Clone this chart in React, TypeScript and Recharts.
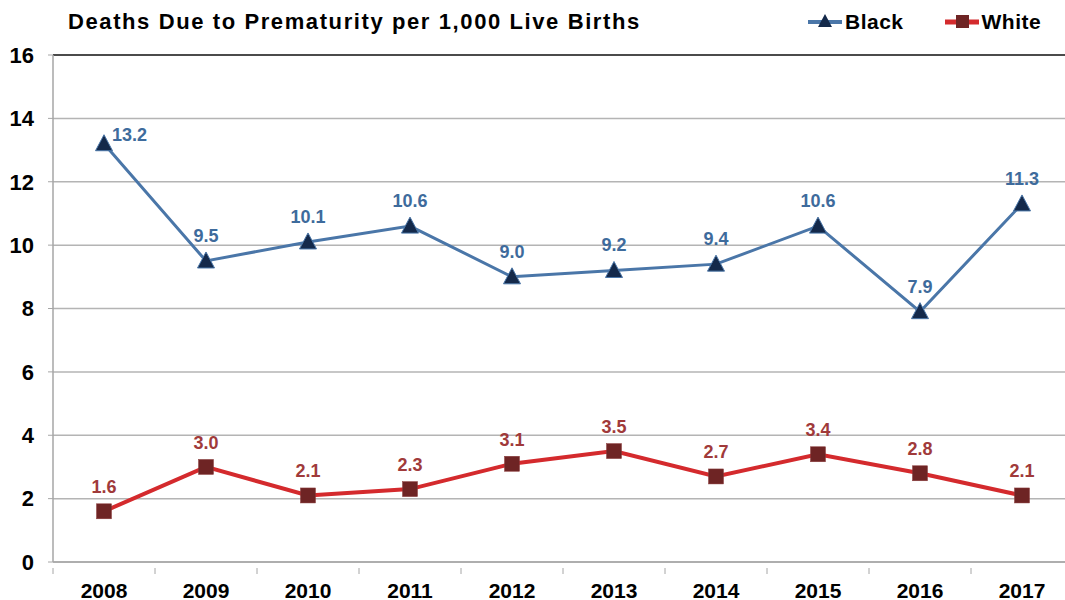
import { LineChart, Line, XAxis, YAxis, CartesianGrid, LabelList, ReferenceLine } from "recharts"

const years = ["2008", "2009", "2010", "2011", "2012", "2013", "2014", "2015", "2016", "2017"]
const blackRates = [13.2, 9.5, 10.1, 10.6, 9.0, 9.2, 9.4, 10.6, 7.9, 11.3]
const whiteRates = [1.6, 3.0, 2.1, 2.3, 3.1, 3.5, 2.7, 3.4, 2.8, 2.1]
const yTicks = [0, 2, 4, 6, 8, 10, 12, 14, 16]

const data = years.map((year, i) => ({ year, black: blackRates[i], white: whiteRates[i] }))

const FONT = "'Liberation Sans', Arial, sans-serif"
const BLUE_LINE = "#4a76a8"
const BLUE_MARK = "#14294a"
const BLUE_TEXT = "#3e6b9c"
const RED_LINE = "#d42a2d"
const RED_MARK = "#6e2424"
const RED_TEXT = "#a03a3a"

function Triangle(props: any) {
	const { cx, cy } = props
	if (cx == null || cy == null) return null
	return <path d={`M${cx},${cy - 9} L${cx + 8.5},${cy + 7} L${cx - 8.5},${cy + 7} Z`} fill={BLUE_MARK} stroke={BLUE_LINE} strokeWidth={1} />
}

function Square(props: any) {
	const { cx, cy } = props
	if (cx == null || cy == null) return null
	return <rect x={cx - 7.5} y={cy - 7.5} width={15} height={15} fill={RED_MARK} stroke="#8a3a3a" strokeWidth={0.5} />
}

function blackLabel(props: any) {
	const { x, y, value, index } = props
	if (index === 0) {
		return (
			<text x={x + 8} y={y - 3} fill={BLUE_TEXT} fontSize={18} fontWeight="bold" fontFamily={FONT}>
				{value.toFixed(1)}
			</text>
		)
	}
	return (
		<text x={x} y={y - 19} textAnchor="middle" fill={BLUE_TEXT} fontSize={18} fontWeight="bold" fontFamily={FONT}>
			{value.toFixed(1)}
		</text>
	)
}

function whiteLabel(props: any) {
	const { x, y, value } = props
	return (
		<text x={x} y={y - 18} textAnchor="middle" fill={RED_TEXT} fontSize={18} fontWeight="bold" fontFamily={FONT}>
			{value.toFixed(1)}
		</text>
	)
}

function YearTick(props: any) {
	const { x, y, payload, index, visibleTicksCount } = props
	const half = payload?.offset ?? 51
	return (
		<g>
			<line x1={x - half} x2={x - half} y1={y} y2={y + 6} stroke="#a6a6a6" />
			{index === visibleTicksCount - 1 && <line x1={x + half} x2={x + half} y1={y} y2={y + 6} stroke="#a6a6a6" />}
			<text x={x} y={y + 30} textAnchor="middle" fill="#000" fontSize={21} fontWeight="bold" fontFamily={FONT}>
				{payload.value}
			</text>
		</g>
	)
}

function App() {
	return (
		<div style={{ position: "fixed", left: 0, top: 0, width: 1065, height: 600, overflow: "hidden", background: "#fff", fontFamily: FONT }}>
			<div style={{ position: "absolute", left: 68, top: 9, fontSize: 22, letterSpacing: 1.6, fontWeight: "bold", color: "#000", whiteSpace: "nowrap" }}>
				Deaths Due to Prematurity per 1,000 Live Births
			</div>
			<div style={{ position: "absolute", left: 808, top: 10, display: "flex", alignItems: "center", fontSize: 21, letterSpacing: 0.5, fontWeight: "bold", color: "#000", whiteSpace: "nowrap" }}>
				<svg width={36} height={24}>
					<line x1={0} x2={34} y1={12} y2={12} stroke={BLUE_LINE} strokeWidth={4} />
					<path d="M17,4 L24,17 L10,17 Z" fill={BLUE_MARK} />
				</svg>
				<span style={{ marginLeft: 1 }}>Black</span>
				<svg width={36} height={24} style={{ marginLeft: 41 }}>
					<line x1={0} x2={34} y1={12} y2={12} stroke={RED_LINE} strokeWidth={5} />
					<rect x={11} y={5} width={13} height={13} fill={RED_MARK} />
				</svg>
				<span style={{ marginLeft: 1 }}>White</span>
			</div>
			<LineChart width={1080} height={600} data={data} margin={{ top: 55, right: 7, bottom: 0, left: 0 }}>
				<CartesianGrid vertical={false} stroke="#b4b4b4" strokeWidth={1.5} />
				<ReferenceLine y={16} stroke="#222" strokeWidth={1.5} />
				<XAxis
					dataKey="year"
					scale="band"
					height={38}
					axisLine={{ stroke: "#a6a6a6", strokeWidth: 1.5 }}
					tickLine={false}
					tickMargin={0}
					interval={0}
					tick={YearTick}
				/>
				<YAxis
					domain={[0, 16]}
					ticks={yTicks}
					width={53}
					axisLine={{ stroke: "#a6a6a6", strokeWidth: 1.5 }}
					tickLine={{ stroke: "#a6a6a6" }}
					tickSize={5}
					tickMargin={14}
					tick={{ fill: "#000", fontSize: 22, fontWeight: "bold", fontFamily: FONT }}
				/>
				<Line
					type="linear"
					dataKey="black"
					stroke={BLUE_LINE}
					strokeWidth={3}
					dot={<Triangle />}
					activeDot={false}
					isAnimationActive={false}
				>
					<LabelList dataKey="black" content={blackLabel} />
				</Line>
				<Line
					type="linear"
					dataKey="white"
					stroke={RED_LINE}
					strokeWidth={4}
					dot={<Square />}
					activeDot={false}
					isAnimationActive={false}
				>
					<LabelList dataKey="white" content={whiteLabel} />
				</Line>
			</LineChart>
		</div>
	)
}

export default App
